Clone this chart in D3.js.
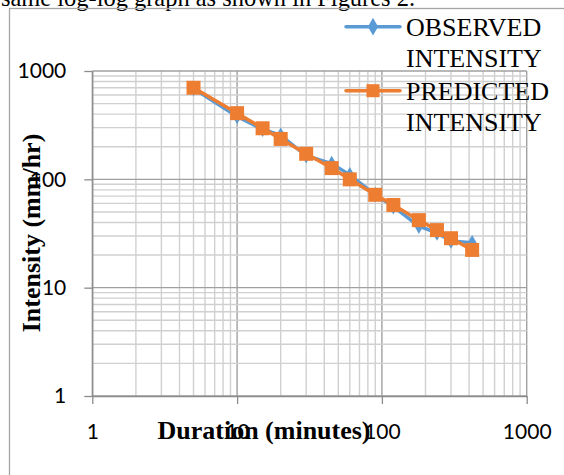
<!DOCTYPE html>
<html>
<head>
<meta charset="utf-8">
<script src="https://cdn.jsdelivr.net/npm/d3@7"></script>
<style>
  body { margin: 0; background: #fff; }
  svg { display: block; }
  .axis text { font-family: Lato, "Open Sans", sans-serif; font-size: 21px; fill: #000; }
  .axis path, .axis line { stroke: #8c8c8c; stroke-width: 1.3; }
  .title { font-family: "Liberation Serif", "Times New Roman", serif; font-weight: bold; font-size: 26px; }
  .legend text { font-family: "Liberation Serif", "Times New Roman", serif; font-size: 26px; }
</style>
</head>
<body>
<script>
// chart size
var w = 564, h = 475;

// data
var durations = [5, 10, 15, 20, 30, 45, 60, 90, 120, 180, 240, 300, 420];
var observed = [690, 380, 290, 255, 165, 140, 110, 72, 56, 37, 32, 27, 26];
var predicted = [700, 408, 296, 236, 172, 127, 100, 72, 58, 42, 34, 28.6, 22.3];
var tickValues = [1, 10, 100, 1000];
var seriesNames = ["OBSERVED", "PREDICTED"];

window.onload = function(){
  var svg = d3.select("body").append("svg")
    .attr("width", w)
    .attr("height", h);

  // bit of the page text above the chart (cut off)
  svg.append("text")
    .attr("x", 1)
    .attr("y", 6)
    .attr("textLength", 414)
    .attr("lengthAdjust", "spacingAndGlyphs")
    .style("font-family", "'Liberation Serif', 'Times New Roman', serif")
    .style("font-size", "25px")
    .text("same log-log graph as shown in Figures 2.");

  // chart area border
  svg.append("rect")
    .attr("x", 9.5)
    .attr("y", 8.5)
    .attr("width", 600)
    .attr("height", 500)
    .style("fill", "none")
    .style("stroke", "#a6a6a6")
    .style("stroke-width", 1.3);

  // log scales
  var x = d3.scaleLog().domain([1, 1000]).range([92.3, 526.7]);
  var y = d3.scaleLog().domain([1, 1000]).range([396, 71]);

  // grid values: 1..9 for each decade plus 1000
  var gridVals = [];
  [1, 10, 100].forEach(function(dec){
    for (var k = 1; k <= 9; k++) gridVals.push(k * dec);
  });
  gridVals.push(1000);
  function isMajor(v){ return tickValues.indexOf(v) >= 0; }

  var grid = svg.append("g").attr("class", "grid");
  // minor first, major on top
  var sorted = gridVals.filter(function(v){ return !isMajor(v); }).concat(tickValues);

  grid.selectAll(".vgrid")
    .data(sorted)
    .enter()
    .append("line")
    .attr("class", "vgrid")
    .attr("x1", function(d){ return x(d); })
    .attr("x2", function(d){ return x(d); })
    .attr("y1", y(1000))
    .attr("y2", y(1))
    .style("stroke", function(d){ return isMajor(d) ? "#a0a0a0" : "#d0d0d0"; })
    .style("stroke-width", 1.4);

  grid.selectAll(".hgrid")
    .data(sorted)
    .enter()
    .append("line")
    .attr("class", "hgrid")
    .attr("x1", x(1))
    .attr("x2", x(1000))
    .attr("y1", function(d){ return y(d); })
    .attr("y2", function(d){ return y(d); })
    .style("stroke", function(d){ return isMajor(d) ? "#a0a0a0" : "#d0d0d0"; })
    .style("stroke-width", 1.4);

  // axes
  var fmt = d3.format("d");
  svg.append("g")
    .attr("class", "axis")
    .attr("transform", "translate(0," + y(1) + ")")
    .call(d3.axisBottom(x).tickValues(tickValues).tickFormat(fmt).tickSize(8).tickPadding(20).tickSizeOuter(0));

  svg.append("g")
    .attr("class", "axis")
    .attr("transform", "translate(" + x(1) + ",0)")
    .call(d3.axisLeft(y).tickValues(tickValues).tickFormat(fmt).tickSize(8).tickPadding(18).tickSizeOuter(0));

  // series
  var line = d3.line()
    .x(function(d){ return x(d[0]); })
    .y(function(d){ return y(d[1]); });

  var obsPts = durations.map(function(d, i){ return [d, observed[i]]; });
  var predPts = durations.map(function(d, i){ return [d, predicted[i]]; });

  var diamond = d3.symbol().type(d3.symbolDiamond).size(70);
  var square = d3.symbol().type(d3.symbolSquare).size(196);

  svg.append("path")
    .datum(obsPts)
    .attr("d", line)
    .style("fill", "none")
    .style("stroke", "#5b9bd5")
    .style("stroke-width", 3.5);

  svg.selectAll(".obs")
    .data(obsPts)
    .enter()
    .append("path")
    .attr("class", "obs")
    .attr("d", diamond)
    .attr("transform", function(d){ return "translate(" + x(d[0]) + "," + y(d[1]) + ")"; })
    .style("fill", "#5b9bd5");

  svg.append("path")
    .datum(predPts)
    .attr("d", line)
    .style("fill", "none")
    .style("stroke", "#ed7d31")
    .style("stroke-width", 3.5);

  svg.selectAll(".pred")
    .data(predPts)
    .enter()
    .append("path")
    .attr("class", "pred")
    .attr("d", square)
    .attr("transform", function(d){ return "translate(" + x(d[0]) + "," + y(d[1]) + ")"; })
    .style("fill", "#ed7d31");

  // axis titles
  svg.append("text")
    .attr("class", "title")
    .attr("x", 264)
    .attr("y", 439)
    .attr("text-anchor", "middle")
    .text("Duration (minutes)");

  svg.append("text")
    .attr("class", "title")
    .attr("text-anchor", "middle")
    .attr("transform", "translate(39.5,233) rotate(-90)")
    .text("Intensity (mm/hr)");

  // legend
  var legend = svg.append("g").attr("class", "legend");
  var legendRows = [
    { name: seriesNames[0], color: "#5b9bd5", sym: d3.symbol().type(d3.symbolDiamond).size(90), y: 26.7, base: 36 },
    { name: seriesNames[1], color: "#ed7d31", sym: d3.symbol().type(d3.symbolSquare).size(170), y: 90.7, base: 99.5 }
  ];
  legendRows.forEach(function(r){
    legend.append("line")
      .attr("x1", 346).attr("x2", 400)
      .attr("y1", r.y).attr("y2", r.y)
      .style("stroke", r.color)
      .style("stroke-width", 3.5)
      .style("stroke-linecap", "round");
    legend.append("path")
      .attr("d", r.sym)
      .attr("transform", "translate(373," + r.y + ")")
      .style("fill", r.color);
    var t = legend.append("text").attr("y", r.base);
    t.append("tspan").attr("x", 406).text(r.name);
    t.append("tspan").attr("x", 406).attr("dy", 31).text("INTENSITY");
  });
};
</script>
</body>
</html>
